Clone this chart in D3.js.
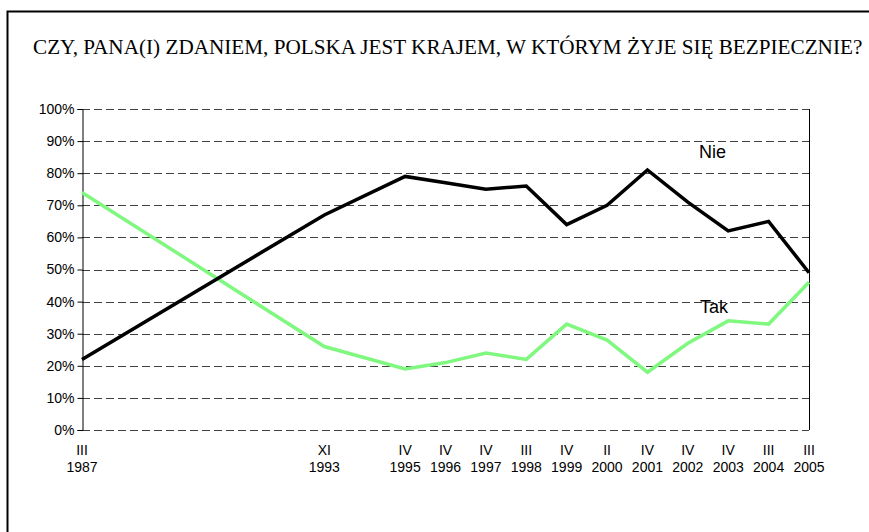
<!DOCTYPE html>
<html>
<head>
<meta charset="utf-8">
<script src="https://cdn.jsdelivr.net/npm/d3@7"></script>
<style>
  body { margin: 0; background: #fff; }
  svg { display: block; }
</style>
</head>
<body>
<div id="chart"></div>
<script>
// Survey dates (month in roman numerals, year)
const months = ['III', 'XI', 'IV', 'IV', 'IV', 'III', 'IV', 'II', 'IV', 'IV', 'IV', 'III', 'III'];
const years = [1987, 1993, 1995, 1996, 1997, 1998, 1999, 2000, 2001, 2002, 2003, 2004, 2005];

// Answers, in percent
const nie = [22, 67, 79, 77, 75, 76, 64, 70, 81, 71, 62, 65, 49];
const tak = [74, 26, 19, 21, 24, 22, 33, 28, 18, 27, 34, 33, 46];

const yTicks = [0, 10, 20, 30, 40, 50, 60, 70, 80, 90, 100];

const width = 869, height = 532;
const plot = { left: 82, right: 809, top: 109, bottom: 430 };

const svg = d3.select('#chart').append('svg')
    .attr('width', width)
    .attr('height', height);

// Outer frame
svg.append('rect')
    .attr('x', 7.5).attr('y', 11.5)
    .attr('width', width + 10).attr('height', height + 10)
    .attr('fill', 'none')
    .attr('stroke', '#000')
    .attr('stroke-width', 2);

// Title
svg.append('text')
    .attr('x', 33).attr('y', 54)
    .attr('font-family', '"Liberation Serif", "Times New Roman", serif')
    .attr('font-size', 21.2)
    .attr('fill', '#000')
    .text('CZY, PANA(I) ZDANIEM, POLSKA JEST KRAJEM, W KTÓRYM ŻYJE SIĘ BEZPIECZNIE?');

const x = d3.scaleLinear().domain([1987, 2005]).range([plot.left, plot.right]);
const y = d3.scaleLinear().domain([0, 100]).range([plot.bottom, plot.top]);

// Dashed gridlines
svg.append('g')
    .selectAll('line')
    .data(yTicks)
    .join('line')
    .attr('x1', plot.left).attr('x2', plot.right)
    .attr('y1', d => Math.round(y(d)) + 0.5)
    .attr('y2', d => Math.round(y(d)) + 0.5)
    .attr('stroke', '#404040')
    .attr('stroke-width', 1)
    .attr('stroke-dasharray', '8,4');

// Y axis
const yAxis = svg.append('g')
    .attr('transform', `translate(${plot.left + 0.5},0)`)
    .call(d3.axisLeft(y).tickValues(yTicks).tickSize(5).tickPadding(3).tickFormat(d => d + '%'));
yAxis.select('.domain').attr('stroke', '#000');
yAxis.selectAll('text')
    .attr('font-family', '"Liberation Sans", Arial, sans-serif')
    .attr('font-size', 14)
    .attr('fill', '#000');

// Right border of plot area
svg.append('line')
    .attr('x1', plot.right + 0.5).attr('x2', plot.right + 0.5)
    .attr('y1', plot.top).attr('y2', plot.bottom)
    .attr('stroke', '#000');

// X labels: month above year
const xl = svg.append('g')
    .selectAll('g')
    .data(years)
    .join('g')
    .attr('transform', d => `translate(${x(d)},0)`)
    .attr('font-family', '"Liberation Sans", Arial, sans-serif')
    .attr('font-size', 14)
    .attr('text-anchor', 'middle')
    .attr('fill', '#000');
xl.append('text').attr('y', 455).text((d, i) => months[i]);
xl.append('text').attr('y', 472).text(d => d);

// Lines
const line = d3.line()
    .x((d, i) => x(years[i]))
    .y(d => y(d));

svg.append('path')
    .datum(tak)
    .attr('d', line)
    .attr('fill', 'none')
    .attr('stroke', '#80f880')
    .attr('stroke-width', 3.5);

svg.append('path')
    .datum(nie)
    .attr('d', line)
    .attr('fill', 'none')
    .attr('stroke', '#000')
    .attr('stroke-width', 3.5);

// Series labels
svg.append('text')
    .attr('x', 699).attr('y', 158)
    .attr('font-family', '"Liberation Sans", Arial, sans-serif')
    .attr('font-size', 18)
    .text('Nie');
svg.append('text')
    .attr('x', 700).attr('y', 313)
    .attr('font-family', '"Liberation Sans", Arial, sans-serif')
    .attr('font-size', 18)
    .text('Tak');
</script>
</body>
</html>
